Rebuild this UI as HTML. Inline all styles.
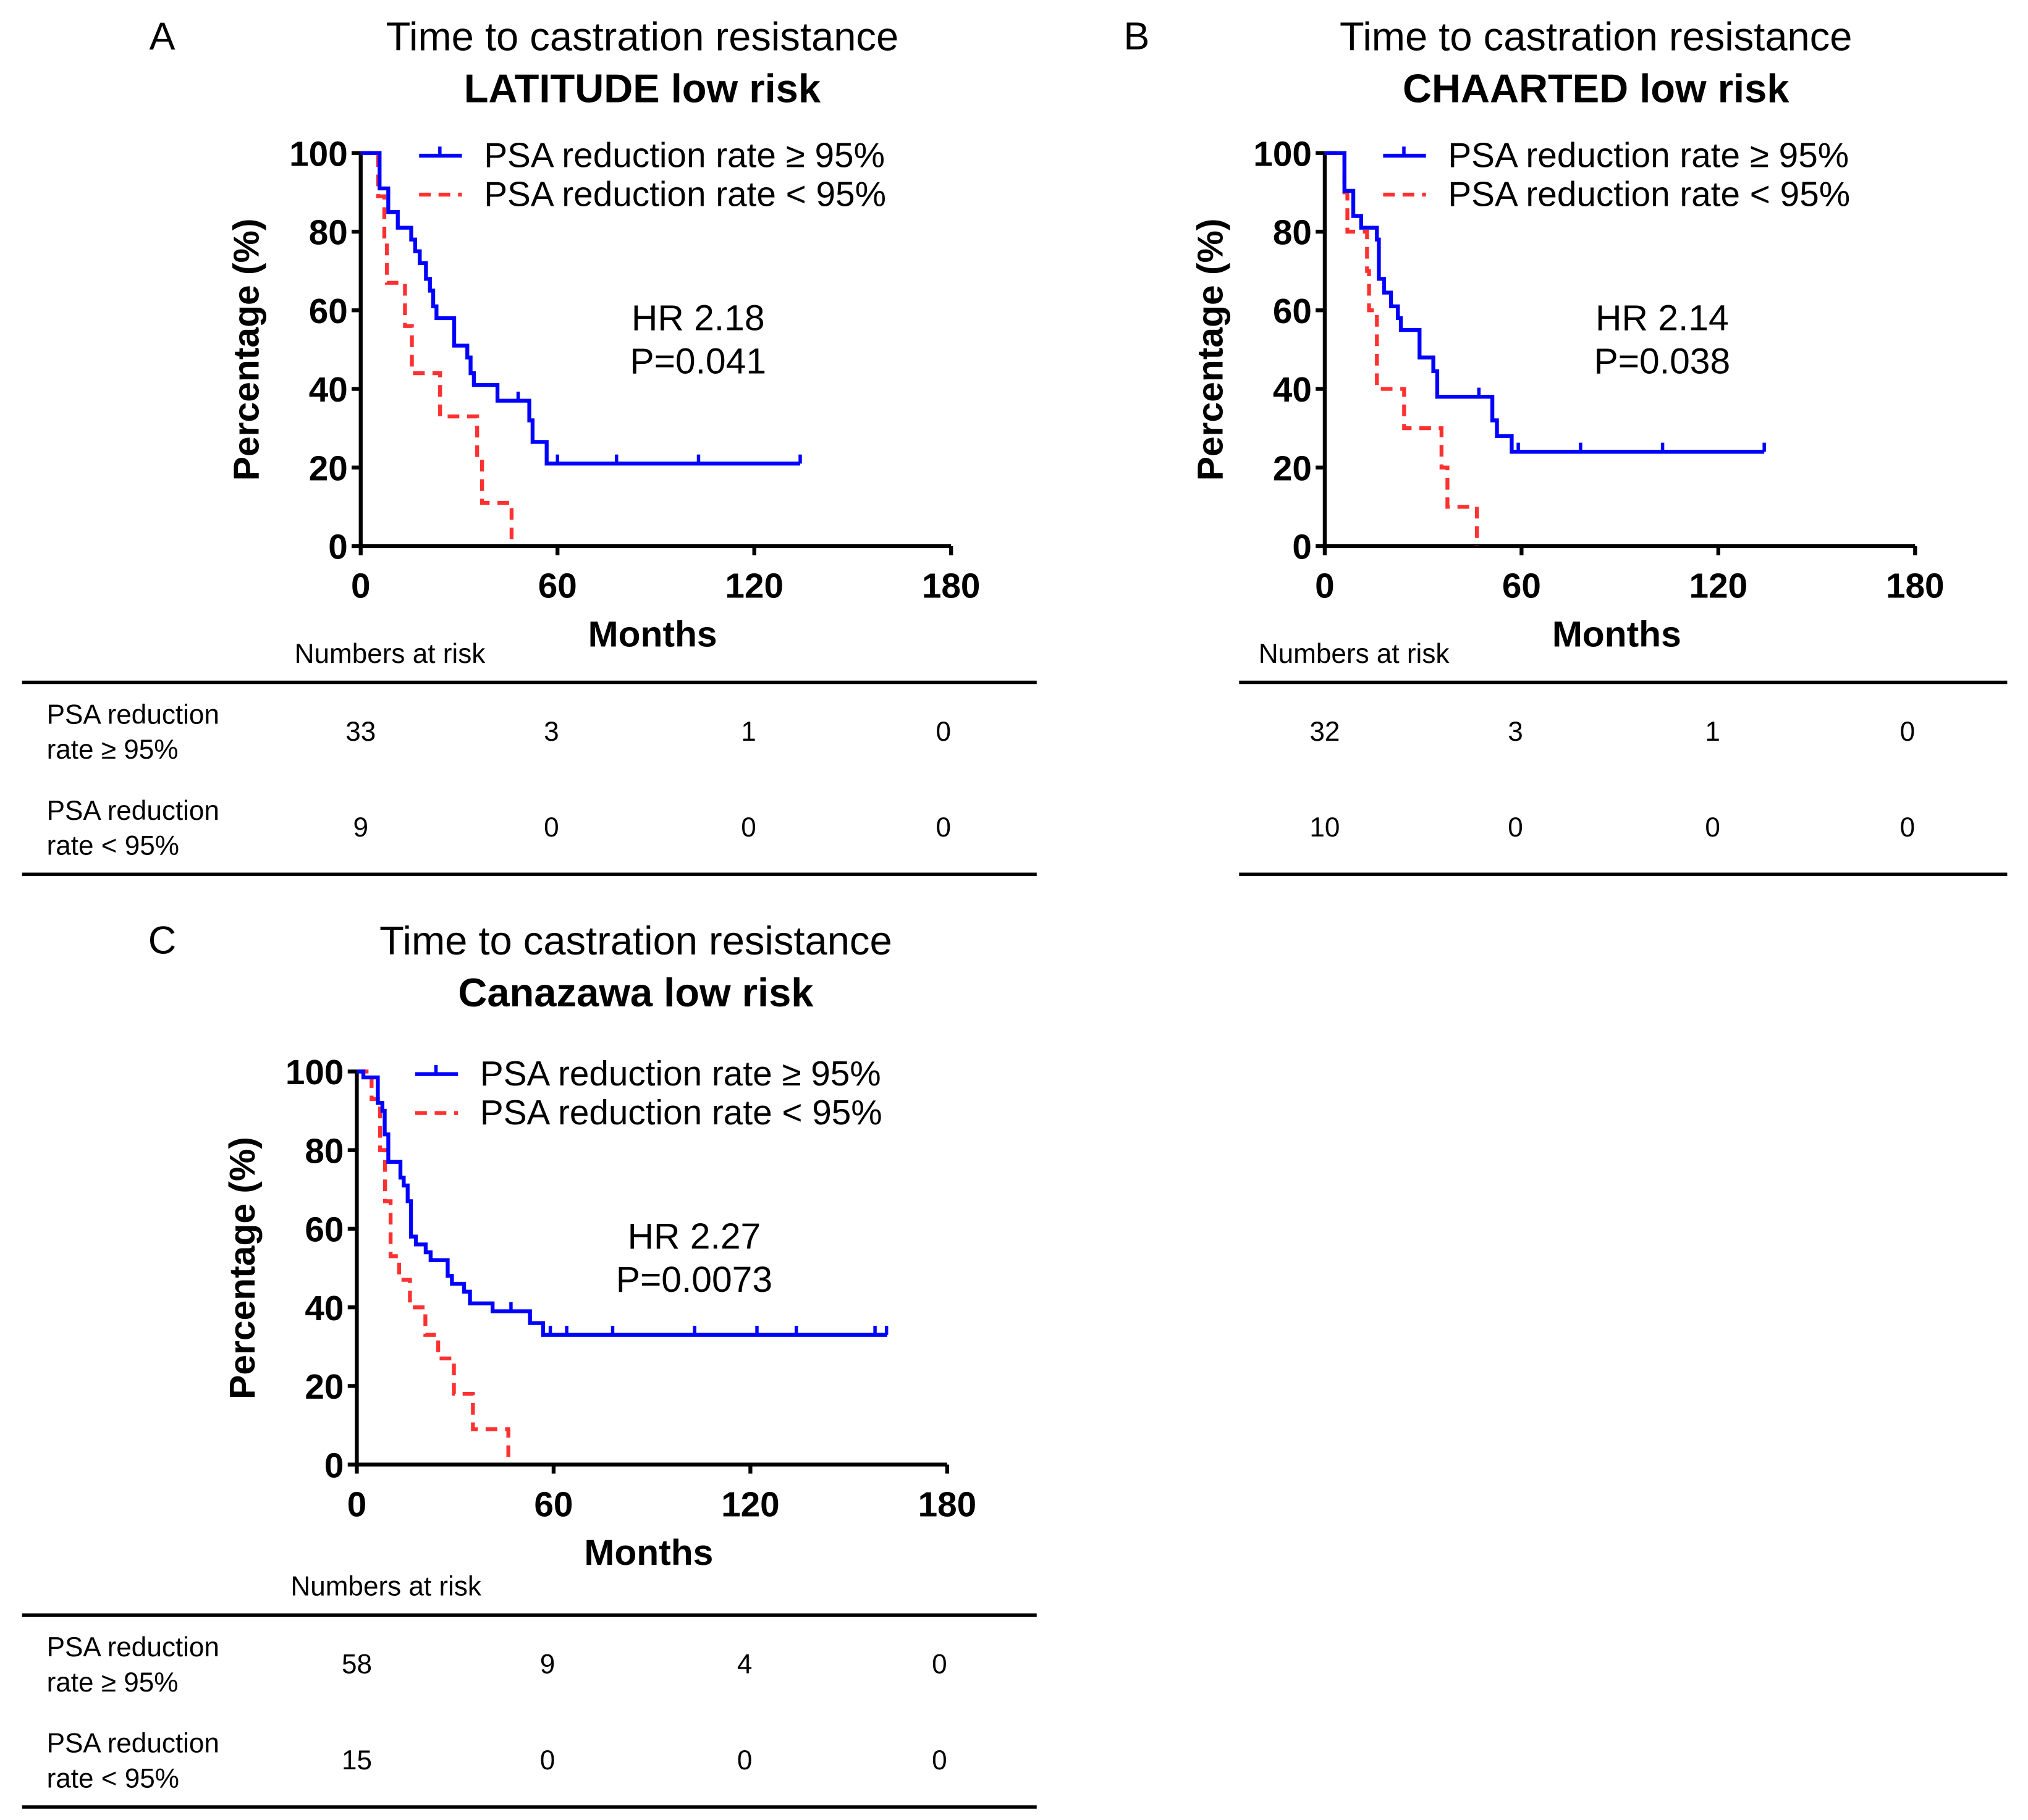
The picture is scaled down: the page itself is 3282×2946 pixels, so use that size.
<!DOCTYPE html>
<html><head><meta charset="utf-8"><style>
html,body{margin:0;padding:0;background:#fff}
svg{display:block}
text{font-family:"Liberation Sans",Arial,sans-serif}
</style></head><body>
<svg id="fig" xmlns="http://www.w3.org/2000/svg" width="3282" height="2946" viewBox="0 0 1563 1403"></svg>
<script>
// Panel A data
const aBlueT=[5.75,8.4,11.3,15.4,16.6,18,19.9,21.1,22.1,23.1,28.5,32.5,33.5,34.5,41.7,51.4,52.4,56.7];
const aBlueS=[91,85,81,78,75,72,68,65,61,58,51,48,44,41,37,32,26.5,21];
const aBlueCens=[48,60,78,103,134];
const aBlueEnd=134;
const aRedT=[5.3,7.2,8,13.5,15.6,24.2,35.5,37,46];
const aRedS=[89,78,67,56,44,33,22,11,0];
// Panel B data
const bBlueT=[6,8.7,11.1,15.9,16.5,18.1,20.2,22.3,23.2,28.9,33.1,34.3,51.1,52.5,57];
const bBlueS=[90.4,84,81,78,68,64.5,61,58,55,48,44.5,38,32,28,24];
const bBlueCens=[47,59,78,103,134];
const bBlueEnd=134;
const bRedT=[6,6.9,12.9,13.5,15.9,24.2,35.6,37.4,46.4];
const bRedS=[90,80,70,60,40,30,20,10,0];
// Panel C data
const cBlueT=[2,6.4,7.8,8.5,9.6,13.3,14.3,15.5,16.5,18,21,22.5,27.7,29,32.7,34.5,41.4,52.8,56.8];
const cBlueS=[98.5,92,90,84,77,73,71,67,58,56,54,52,48,46,44,41,39,36,33];
const cBlueCens=[47,59,64,78,103,122,134,158,161.5];
const cBlueEnd=161.7;
const cRedT=[4.5,7.1,8.6,10.3,12.9,16.2,20.9,24.8,29.6,35.4,46.2];
const cRedS=[93,80,67,53,47,40,33,27,18,9,0];
const xTicks=[0,60,120,180];
const yTicks=[0,20,40,60,80,100];

const NS="http://www.w3.org/2000/svg";
const svg=document.getElementById('fig');
function el(tag,attrs,parent){const e=document.createElementNS(NS,tag);for(const k in attrs)e.setAttribute(k,attrs[k]);(parent||svg).appendChild(e);return e;}
function txt(s,x,y,size,weight,anchor,parent){const t=el('text',{x:x,y:y,'font-size':size,'font-weight':weight||'normal','text-anchor':anchor||'start','dominant-baseline':'central',fill:'#000'},parent);t.textContent=s;return t;}

function panel(o){
  const g=el('g',{});
  
  
  const X=m=>o.x0+(o.x1-o.x0)*m/180;
  const Y=p=>o.y0+(o.y1-o.y0)*p/100;
  const l=txt(o.letter,o.lx,o.ty1,30,'normal','middle',g);
  
  
  const t1=txt('Time to castration resistance',o.tcx,o.ty1,31,'normal','middle',g);
  
  
  const t2=txt(o.sub,o.tcx,o.ty1+40,31,'bold','middle',g);
  
  
  const ax=el('path',{d:`M${o.x0} ${Y(100)}V${Y(0)}H${X(180)}`,stroke:'#000','stroke-width':3,fill:'none'},g);
  
  
  yTicks.forEach(v=>{
    el('line',{x1:o.x0-7,x2:o.x0,y1:Y(v),y2:Y(v),stroke:'#000','stroke-width':3},g);
    const tl=txt(String(v),o.x0-10,Y(v)+1,27,'bold','end',g);
    
    
  });
  xTicks.forEach(v=>{
    el('line',{x1:X(v),x2:X(v),y1:Y(0),y2:Y(0)+7,stroke:'#000','stroke-width':3},g);
    const tl=txt(String(v),X(v),Y(0)+31,27,'bold','middle',g);
    
    
  });
  const yt=txt('Percentage (%)',0,0,28,'bold','middle',g);
  yt.setAttribute('transform',`translate(${o.x0-88},${Y(50)}) rotate(-90)`);
  
  
  const xt=txt('Months',X(89),Y(0)+68,28,'bold','middle',g);
  
  
  function step(T,S,end){let d=`M${X(0)} ${Y(100)}`;for(let i=0;i<T.length;i++){d+=`H${X(T[i])}V${Y(S[i])}`;}if(end!=null)d+=`H${X(end)}`;return d;}
  const red=el('path',{d:step(o.rT,o.rS,null),stroke:'#ff3030','stroke-width':3,fill:'none','stroke-dasharray':'9 6'},g);
  
  
  const blue=el('path',{d:step(o.bT,o.bS,o.bEnd),stroke:'#0000ff','stroke-width':3,fill:'none'},g);
  
  
  o.cens.forEach(c=>{
    let s=100;for(let i=0;i<o.bT.length;i++){if(o.bT[i]<=c)s=o.bS[i];}
    const m=el('line',{x1:X(c),x2:X(c),y1:Y(s),y2:Y(s)-7,stroke:'#0000ff','stroke-width':2.6},g);
    
    
  });
  const lx=o.x0+45, ly=Y(100)+2;
  const lg=el('g',{},g);
  
  
  el('line',{x1:lx,x2:lx+33,y1:ly,y2:ly,stroke:'#0000ff','stroke-width':3},lg);
  el('line',{x1:lx+16,x2:lx+16,y1:ly,y2:ly-7,stroke:'#0000ff','stroke-width':2.6},lg);
  txt('PSA reduction rate \u2265 95%',lx+50,ly,27,'normal','start',lg);
  el('line',{x1:lx,x2:lx+33,y1:ly+30,y2:ly+30,stroke:'#ff3030','stroke-width':3,'stroke-dasharray':'9 6'},lg);
  txt('PSA reduction rate < 95%',lx+50,ly+30,27,'normal','start',lg);
  const hr=txt(o.hr,o.hrx,Y(58),28,'normal','middle',g);
  
  
  const pv=txt(o.p,o.hrx,Y(47),28,'normal','middle',g);
  
  
  const tb=el('g',{},g);
  
  
  txt('Numbers at risk',o.x0-51,o.tTop-22,21,'normal','start',tb);
  el('line',{x1:o.tx0,x2:o.tx1,y1:o.tTop,y2:o.tTop,stroke:'#000','stroke-width':2.6},tb);
  el('line',{x1:o.tx0,x2:o.tx1,y1:o.tTop+148,y2:o.tTop+148,stroke:'#000','stroke-width':2.6},tb);
  if(o.labels){
    txt('PSA reduction',36,o.tTop+25,21,'normal','start',tb);
    txt('rate \u2265 95%',36,o.tTop+52,21,'normal','start',tb);
    txt('PSA reduction',36,o.tTop+99,21,'normal','start',tb);
    txt('rate < 95%',36,o.tTop+126,21,'normal','start',tb);
  }
  const cols=[0,0.323,0.657,0.987];
  o.r1.forEach((v,i)=>txt(String(v),o.x0+(X(180)-o.x0)*cols[i],o.tTop+38,21,'normal','middle',tb));
  o.r2.forEach((v,i)=>txt(String(v),o.x0+(X(180)-o.x0)*cols[i],o.tTop+112,21,'normal','middle',tb));
}

panel({letter:'A',lx:125,tcx:495,ty1:28,sub:'LATITUDE low risk',x0:278,x1:733,y0:421,y1:118,
  bT:aBlueT,bS:aBlueS,bEnd:aBlueEnd,cens:aBlueCens,rT:aRedT,rS:aRedS,hr:'HR 2.18',p:'P=0.041',hrx:538,
  tTop:526,tx0:17,tx1:799,labels:true,r1:[33,3,1,0],r2:[9,0,0,0]});
panel({letter:'B',lx:876,tcx:1230,ty1:28,sub:'CHAARTED low risk',x0:1021,x1:1476,y0:421,y1:118,
  bT:bBlueT,bS:bBlueS,bEnd:bBlueEnd,cens:bBlueCens,rT:bRedT,rS:bRedS,hr:'HR 2.14',p:'P=0.038',hrx:1281,
  tTop:526,tx0:955,tx1:1547,labels:false,r1:[32,3,1,0],r2:[10,0,0,0]});
panel({letter:'C',lx:125,tcx:490,ty1:725,sub:'Canazawa low risk',x0:275,x1:730,y0:1129,y1:826,
  bT:cBlueT,bS:cBlueS,bEnd:cBlueEnd,cens:cBlueCens,rT:cRedT,rS:cRedS,hr:'HR 2.27',p:'P=0.0073',hrx:535,
  tTop:1245,tx0:17,tx1:799,labels:true,r1:[58,9,4,0],r2:[15,0,0,0]});
</script>
</body></html>
